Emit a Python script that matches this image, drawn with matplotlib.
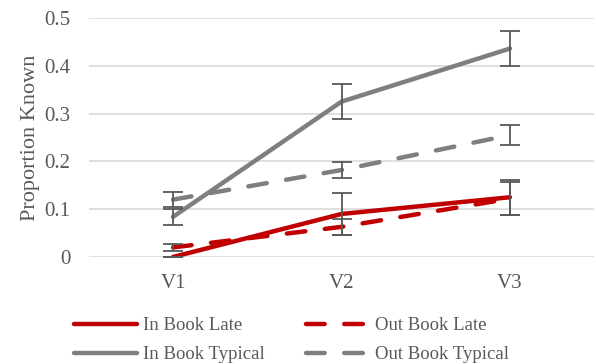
import matplotlib.pyplot as plt
import numpy as np

# Dữ liệu
visits = ["V1", "V2", "V3"]
in_late = [0.0, 0.090, 0.125]
in_late_err = [0.0, 0.044, 0.037]
out_late = [0.020, 0.063, 0.122]
out_late_err = [0.008, 0.017, 0.035]
in_typ = [0.084, 0.325, 0.436]
in_typ_err = [0.017, 0.036, 0.036]
out_typ = [0.120, 0.182, 0.255]
out_typ_err = [0.016, 0.017, 0.021]

red = "#C00000"
grey = "#7F7F7F"
txt = "#595959"

plt.rcParams['font.family'] = ['Liberation Serif', 'DejaVu Serif']

fig = plt.figure(figsize=(5.96, 3.64), dpi=100)
ax = fig.add_axes([0.149, 0.294, 0.848, 0.6566])

x = np.arange(len(visits))
dash = (0, (4.2, 4.4))
series = [
    (in_late, in_late_err, red, "-", "In Book Late"),
    (out_late, out_late_err, red, dash, "Out Book Late"),
    (in_typ, in_typ_err, grey, "-", "In Book Typical"),
    (out_typ, out_typ_err, grey, dash, "Out Book Typical"),
]
handles = []
for vals, err, col, ls, lab in series:
    ln, = ax.plot(x, vals, color=col, lw=3.2, ls=ls, label=lab,
                  solid_capstyle='round', dash_capstyle='round', zorder=3)
    ax.errorbar(x, vals, yerr=err, fmt='none', ecolor=txt, elinewidth=1.3,
                capsize=7.5, capthick=1.3, zorder=4)
    handles.append(ln)

ax.set_xlim(-0.5, 2.5)
ax.set_ylim(0, 0.5)
ax.set_yticks([0, 0.1, 0.2, 0.3, 0.4, 0.5])
ax.set_yticklabels(["0", "0.1", "0.2", "0.3", "0.4", "0.5"])
ax.set_xticks(x)
ax.set_xticklabels(visits)
ax.grid(axis='y', color="#D9D9D9", lw=1.2)
ax.set_axisbelow(True)
for s in ax.spines.values():
    s.set_visible(False)
ax.tick_params(length=0, labelsize=15, colors=txt)
ax.tick_params(axis='y', pad=13)
ax.tick_params(axis='x', pad=12)
ax.set_ylabel("Proportion Known", fontsize=16, color=txt, labelpad=3)

# Chú thích 2 cột: thứ tự theo hàng
order = [handles[0], handles[2], handles[1], handles[3]]
fig.legend(order, [h.get_label() for h in order], ncol=2, frameon=False,
           loc='lower center', bbox_to_anchor=(0.489, -0.044), fontsize=13.5,
           labelcolor=txt, handlelength=3.4, handletextpad=0.3,
           columnspacing=2.2, labelspacing=0.62)

fig.savefig("out.png", dpi=100)
